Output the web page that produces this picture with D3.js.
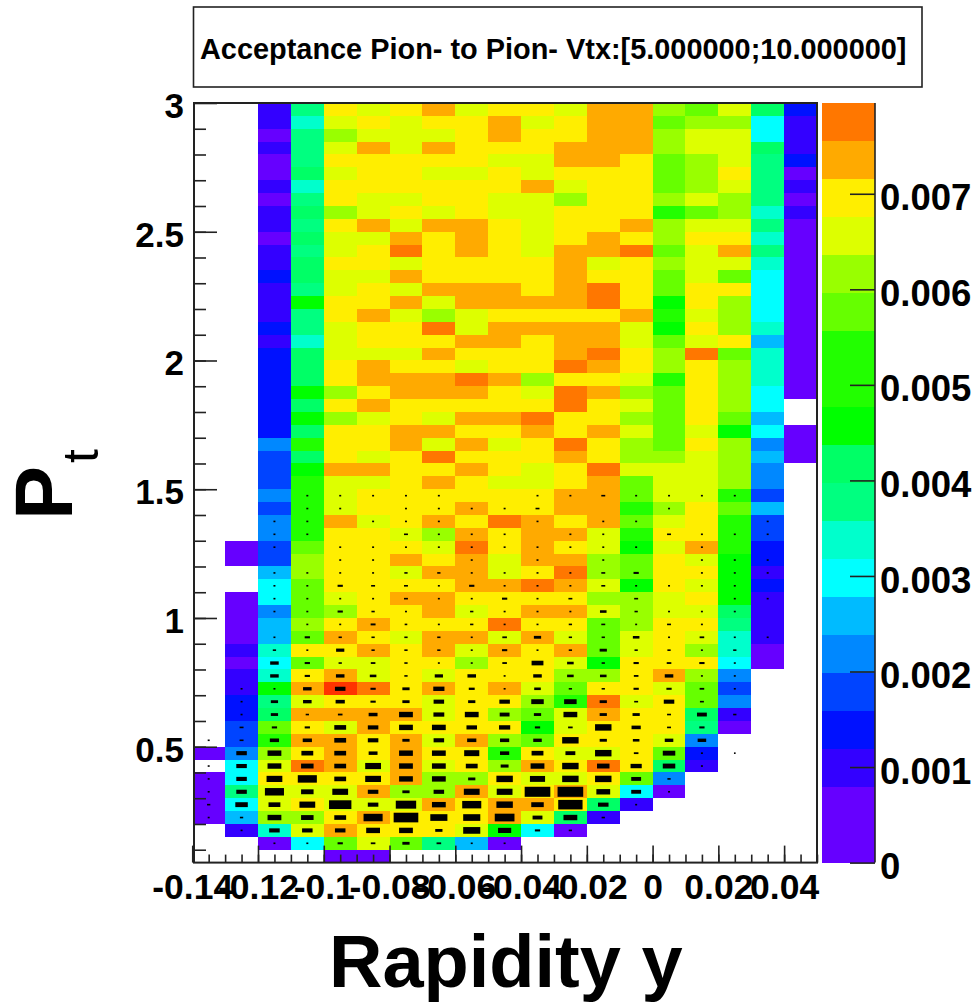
<!DOCTYPE html>
<html>
<head>
<meta charset="utf-8">
<script src="https://cdn.jsdelivr.net/npm/d3@7"></script>
<style>
  html, body { margin: 0; padding: 0; background: #fff; }
  svg { display: block; }
  text { font-family: "Liberation Sans", Arial, sans-serif; font-weight: bold; fill: #000; }
  .domain { display: none; }
  .tick line { stroke: #222; }
  .crisp rect { shape-rendering: crispEdges; }
</style>
</head>
<body>
<svg id="chart" width="977" height="1002"></svg>
<script>
var _ = null;

// acceptance per rapidity bin (one list per column, pt from 3 down to 0.05), in units of 1e-3
var col00 = [_,_,_,_,_,_,_,_,_,_, _,_,_,_,_,_,_,_,_,_, _,_,_,_,_,_,_,_,_,_, _,_,_,_,_,_,_,_,_,_, _,_,_,_,_,_,_,_,_,_, .6,_,.6,.6,.6,.6,_,_,_];
var col01 = [_,_,_,_,_,_,_,_,_,_, _,_,_,_,_,_,_,_,_,_, _,_,_,_,_,_,_,_,_,_, _,_,_,_,.6,.6,_,_,.6,.6, .6,.6,1,.6,1,1,1.4,1.4,1.8,1.8, 2.2,3,3,3.8,3,2.6,1,_,_];
var col02 = [1,1,.6,1,.6,.6,1,.6,1,1, .6,1,1,1.4,1,1,1,1.4,1,1.4, 1.4,1.4,1.4,1.4,1.4,1.4,2.2,1.8,1.8,1.8, 2.2,1.8,2.2,2.2,1.8,1.8,2.6,3,3,2.2, 2.6,2.6,3.4,3,3.4,4.6,3.8,4.2,5.8,5, 6.2,6.6,7,6.6,6.6,6.2,3.4,.6,_];
var col03 = [3.8,3.4,3.8,3.8,3.8,4.2,3.4,3.8,4.2,3.8, 4.2,3.8,4.2,4.2,3.8,4.6,3.8,3.8,3.4,4.2, 4.2,4.2,4.6,4.2,4.6,4.2,5,4.2,4.6,5, 5,5,5,5,5.8,6.2,6.2,5.8,5.8,5.8, 6.2,5.8,7,5.8,7,7.4,6.6,7.4,7,7.4, 7,7.8,7,6.6,7,6.2,6.6,3,_];
var col04 = [7,6.6,6.2,6.6,7,6.6,7,7,6.2,7, 6.6,6.6,7,6.6,6.6,7,7,6.6,6.6,6.6, 7,7,6.2,7,6.2,7,7,7,7.4,6.6, 6.6,6.6,7.4,7,7,7,7,7,6.6,6.2, 7,7.4,7,6.6,7.4,8.2,7,7.4,6.6,7.4, 7.4,7.4,7,6.6,6.6,7,7.4,5.8,.6];
var col05 = [6.6,7,6.6,7.4,7,7,7,6.6,6.6,7.4, 6.6,7,7,6.6,7,7,7.4,7,7,6.6, 7.4,7.4,7,7.4,6.6,7,7,6.6,7.4,6.6, 7,7,6.6,7,7,7,7,7,7,7, 7.4,7,7.4,6.6,6.6,7.8,7,7.4,7.4,7, 7,6.6,7,7.4,6.6,7.4,7,6.6,.6];
var col06 = [7,6.6,6.6,6.6,7,7,7,6.6,7,6.6, 7.4,7.8,6.6,7.4,6.6,7.4,6.6,7,7,6.6, 7,7.4,7.4,7,7,7.4,7.4,7,7,7, 7,7,7,6.6,7,7.4,6.6,7,7.4,7, 7,6.6,7,7,7,7,7,7.4,7,7.4, 7.4,7.4,7.4,6.2,6.6,7,7,5.8,_];
var col07 = [7.4,7,6.6,7.4,7,6.6,7,7,6.6,7.4, 7,7,7,7,7.4,6.6,6.2,7.8,7,7.4, 7,7.4,7.4,7,6.6,7.4,6.6,7.8,7,7.4, 7,7,7.4,6.2,6.6,7,7.4,7,7.4,7.4, 7,7.4,7.4,7,6.6,7.4,6.6,6.6,7,6.6, 7,6.6,6.2,6.2,7.4,7,7,3.8,_];
var col08 = [6.6,7,7,7,7,6.6,7,7,7,7.4, 7.4,7.4,7,7,7.4,7.4,6.6,6.6,7.4,7, 6.6,7.8,7.4,7,7.4,7,7.4,7,7.4,7, 7,7.4,7,7.4,7.8,7.4,7.4,7.4,7,6.6, 7,7.4,6.6,6.2,7,7,7,7,7,7.4, 7,7,6.2,7.4,7,7,6.6,2.6,_];
var col09 = [7,7.4,7.4,7,6.6,7,7,6.6,6.6,7, 7,7,7,7,7.4,7.4,7,7.4,7.4,7, 7,7.4,7,7,7.4,7,6.6,7,7,6.6, 7,7,7.8,7,7,6.6,6.6,7.4,7,7, 7.8,6.6,7.4,7,7,7.4,7,6.2,7,6.2, 5,6.2,7,6.6,7.4,7.4,4.6,.6,_];
var col10 = [7,6.6,7,7,6.6,6.6,7.4,6.6,6.6,6.6, 6.6,6.6,7,7,7,7.4,7,7.4,7,7, 7,6.2,6.6,7,7.8,7.4,7,7,6.6,6.6, 7,7,7.4,7.4,7.4,7.4,7,7.8,7,7.4, 7,7.4,7,7,7,6.6,6.2,5.8,4.6,5.8, 7,7.4,6.6,7,7.4,6.6,3,_,_];
var col11 = [6.6,7,7,7.4,7.4,7,6.6,6.2,7,7, 7,7.4,7.4,7.4,7.4,7.4,7,7.4,7.4,7.4, 7.8,7,7.8,7.8,7,7,7.8,7.4,7,7, 7.4,7.4,7,7.4,7,7.4,7.8,7.4,7,7.4, 7,6.6,7.4,6.6,6.2,5.8,5,6.6,6.6,7, 6.6,7,6.6,7.4,7,4.2,.6,_,_];
var col12 = [7.4,7.4,7.4,7.4,7.4,7,7,7,7,7, 7.4,7.4,6.6,7,7.8,7.8,7,7.4,7.4,7.8, 7.4,7,7.4,7,7,7.4,7,7,7.8,7.4, 7.4,7.4,7.4,6.6,6.6,6.2,6.2,6.6,6.2,6.6, 5.8,5.8,5.8,4.6,6.2,7,7.8,7.4,7,7, 6.6,7.8,7,6.6,4.2,1,_,_,_];
var col13 = [7.4,7.4,7.4,7.4,7,7,7,7,7,7.4, 7,7.8,7,7,7,7,7.4,6.6,6.6,7, 7,6.6,6.2,6.6,6.2,6.6,6.2,6.2,6.6,5.8, 5.8,5,5.8,5,4.6,5.8,5.8,4.6,6.2,6.2, 6.2,6.6,6.6,7,7,7,6.6,7,7,7, 7,7,5.8,3,1,_,_,_,_];
var col14 = [6.2,5.8,6.2,6.2,5.8,5.8,5.8,6.2,5,6.2, 6.2,5.8,6.2,5.8,5.8,4.6,5,4.6,5.8,6.2, 6.2,5,5.8,5.8,5.8,5.8,5.8,6.2,6.6,6.6, 6.6,6.2,6.6,7,6.6,7,7,7,6.6,6.6, 7,7,7,7,7.4,6.6,7,7,7,6.6, 5.8,4.2,2.2,.6,_,_,_,_,_];
var col15 = [5.8,6.2,6.6,6.6,6.2,6.2,6.2,6.6,5.8,6.6, 7,6.6,6.6,6.6,7,7,6.6,7,6.6,7.8, 7,7,7,7,7,6.6,7,6.6,6.6,6.6, 6.6,7,7,7,7.4,6.6,7,6.6,7,6.6, 7,6.6,6.2,7,6.2,5.8,5.8,4.2,3.8,2.2, 1.4,1,_,_,_,_,_,_,_];
var col16 = [6.6,6.2,6.6,6.6,6.6,7,6.6,6.2,6.2,6.6, 7,7.4,6.6,5.8,7,6.2,6.2,6.2,7,5.8, 6.2,6.2,6.2,6.2,5.8,4.6,6.2,6.2,6.2,6.2, 5,5.8,5,5,5,4.6,4.6,4.6,4.6,4.2, 3.8,3.4,3.4,3,2.2,1.8,2.2,1,.6,_, _,_,_,_,_,_,_,_,_];
var col17 = [4.2,3,3,4.2,3.8,3.8,3.8,3.8,3.4,3.8, 3.4,3.8,3.4,3,3,3,3,3.4,2.6,3.4, 3.4,3.4,3,3,2.6,3,2.2,2.6,2.2,2.2, 1.8,2.6,1.8,1.8,1.4,1.4,1,1.4,1,1, 1,1,.6,.6,_,_,_,_,_,_, _,_,_,_,_,_,_,_,_];
var col18 = [1.4,1,1,1,1.4,.6,1,.6,1,.6, .6,.6,.6,.6,.6,.6,.6,.6,.6,.6, .6,.6,.6,_,_,.6,.6,.6,_,_, _,_,_,_,_,_,_,_,_,_, _,_,_,_,_,_,_,_,_,_, _,_,_,_,_,_,_,_,_];
var acceptance = [col00, col01, col02, col03, col04, col05, col06, col07, col08, col09,
  col10, col11, col12, col13, col14, col15, col16, col17, col18];

// error boxes, fraction of the cell, rows 30 to 57 (pt 1.5 down to 0.1)
var firstBoxRow = 30;
var boxSize = [
  [0,0,0,.06,.06,.06,.06,.06,0,0,.06,.06,.12,.06,.06,.06,.06,0,0],
  [0,0,0,.06,.06,0,.06,.06,.06,.06,.12,0,0,0,.06,0,0,0,0],
  [0,0,.06,.06,0,.06,.06,.06,0,0,.06,0,.06,.06,0,0,0,.06,0],
  [0,0,.06,.06,0,0,.12,.06,.06,.06,0,.06,.06,0,.12,.06,.06,.06,0],
  [0,0,.06,0,.06,.06,.06,.06,.06,.06,.06,.06,.06,.06,0,.06,0,0,0],
  [0,0,0,0,.06,.06,0,0,.06,0,.06,0,.06,0,0,.06,.06,.06,0],
  [0,0,.06,.06,.06,.06,.1,.1,.06,.06,.06,.06,.12,.16,0,.06,.06,.06,0],
  [0,0,.06,.06,.16,.12,.12,.06,.16,.06,.06,.06,.12,.06,.06,.06,.06,0,0],
  [0,0,.06,.06,.06,.06,.12,.06,.06,.16,.06,.12,0,.12,0,0,.06,.06,0],
  [0,0,.06,.06,.16,.1,.06,0,.1,.06,.06,.06,.2,.1,.06,.06,.06,0,0],
  [0,0,0,.06,.06,.15,.08,.06,.1,.06,.06,.1,.12,.06,.12,.06,0,0,0],
  [0,0,.06,.16,.1,.1,.1,.1,.06,.14,.22,.1,.1,.2,.06,.14,.06,.06,0],
  [0,0,.1,.06,.25,.1,.1,.1,.06,.16,.06,.1,.22,.1,.1,.06,.1,0,0],
  [0,0,.26,.16,.1,.14,.1,.06,.06,.14,.36,.2,.1,.16,.14,.16,.06,0,0],
  [0,0,.26,.16,.26,.2,.1,.25,.26,.06,.26,.2,.2,.14,.26,.06,.06,0,0],
  [0,.06,.06,.26,.32,.16,.22,.34,.18,.06,.2,.1,.1,.16,.16,.14,.06,0,0],
  [0,.06,.22,.26,.28,.16,.22,.32,.22,.32,.38,.38,.22,.12,.32,.12,0,0,0],
  [0,.06,.22,.1,.14,.27,.42,.33,.42,.3,.22,.42,.22,.22,.12,.3,.1,0,0],
  [0,.12,.16,.16,.36,.32,.42,.42,.32,.34,.16,.14,.5,.28,.12,.16,0,0,0],
  [.06,.12,.28,.28,.36,.32,.22,.32,.28,.28,.26,.5,.22,.2,.26,.26,0,0,0],
  [0,.32,.42,.36,.36,.27,.42,.42,.46,.28,.36,.3,.5,.14,.38,.06,.05,0,0],
  [.06,.32,.42,.38,.36,.48,.42,.42,.36,.24,.42,.5,.38,.34,.38,.06,0,0,0],
  [.06,.32,.48,.58,.36,.48,.42,.42,.22,.5,.46,.5,.5,.3,.1,0,0,0,0],
  [.06,.32,.58,.38,.48,.32,.22,.32,.48,.48,.78,.78,.42,.3,.06,0,0,0,0],
  [.1,.38,.36,.48,.68,.32,.62,.42,.58,.5,.38,.74,.32,.06,0,0,0,0,0],
  [.06,.1,.42,.38,.36,.58,.75,.52,.52,.6,.3,.42,.1,0,0,0,0,0,0],
  [0,.06,.32,.32,.32,.42,.42,.22,.52,.4,.16,.1,0,0,0,0,0,0,0],
  [0,0,.06,.06,.16,.14,.22,.14,.06,.06,0,0,0,0,0,0,0,0,0]
];

var palette = ['#6600ff','#6600ff','#3300ff','#0011ff','#0044ff','#0088ff','#00bbff','#00ffff','#00ffcc','#00ff80',
  '#00ff66','#00ff00','#22ff00','#22ff00','#66ff00','#99ff00','#ddff00','#ffee00','#ffaa00','#ff7700','#ff3300'];
var zMax = 7.95;

var xMajor = [-0.14,-0.12,-0.1,-0.08,-0.06,-0.04,-0.02,0,0.02,0.04];
var xLabels = ['-0.14','-0.12','-0.1','-0.08','-0.06','-0.04','-0.02','0','0.02','0.04'];
var yMajor = [0.5,1,1.5,2,2.5,3];
var yLabels = ['0.5','1','1.5','2','2.5','3'];
var zMajor = [0,1,2,3,4,5,6,7];
var zLabels = ['0','0.001','0.002','0.003','0.004','0.005','0.006','0.007'];

var titleText = 'Acceptance Pion- to Pion- Vtx:[5.000000;10.000000]';

var plot = {left: 194, right: 817, top: 103, bottom: 862.6};
var bar = {left: 822, right: 875};

var svg = d3.select('#chart');

var x = d3.scaleLinear().domain([-0.12, 0.05]).range([258, plot.right]);
var y = d3.scaleLinear().domain([0.05, 3]).range([plot.bottom, plot.top]);
var z = d3.scaleLinear().domain([0, zMax]).range([plot.bottom, plot.top]);
var level = d3.scaleThreshold()
  .domain(d3.range(1, palette.length).map(function(k) { return k * zMax / 20; }))
  .range(palette);

var binX = 0.01;
var binY = 0.05;
var cellW = x(binX) - x(0);
var cellH = y(0) - y(binY);

svg.append('clipPath').attr('id', 'plot-clip')
  .append('rect')
  .attr('x', plot.left)
  .attr('y', plot.top)
  .attr('width', plot.right - plot.left)
  .attr('height', plot.bottom - plot.top);

// cells
var cells = [];
acceptance.forEach(function(column, c) {
  column.forEach(function(v, r) {
    if (v !== null) cells.push({c: c, r: r, v: v});
  });
});

svg.append('g')
  .attr('class', 'crisp')
  .attr('clip-path', 'url(#plot-clip)')
  .selectAll('rect')
  .data(cells)
  .enter()
  .append('rect')
  .attr('x', function(d) { return x(-0.14 + d.c * binX); })
  .attr('y', function(d) { return y(3 - d.r * binY); })
  .attr('width', cellW)
  .attr('height', cellH)
  .attr('fill', function(d) { return level(d.v); });

// error boxes
var boxes = [];
boxSize.forEach(function(row, i) {
  row.forEach(function(s, c) {
    if (s > 0) boxes.push({c: c, r: i + firstBoxRow, s: s});
  });
});

svg.append('g').selectAll('rect')
  .data(boxes)
  .enter()
  .append('rect')
  .attr('x', function(d) { return x(-0.14 + (d.c + 0.5) * binX) - d.s * cellW / 2; })
  .attr('y', function(d) { return y(3 - (d.r + 0.5) * binY) - Math.max(d.s * cellH, 1.6) / 2; })
  .attr('width', function(d) { return d.s * cellW; })
  .attr('height', function(d) { return Math.max(d.s * cellH, 1.6); })
  .attr('fill', '#000');

// frame
svg.append('rect')
  .attr('x', plot.left)
  .attr('y', plot.top)
  .attr('width', plot.right - plot.left)
  .attr('height', plot.bottom - plot.top)
  .attr('fill', 'none')
  .attr('stroke', '#222')
  .attr('stroke-width', 2);

// x axis
var xMinorAxis = d3.axisBottom(x)
  .tickValues(d3.range(-0.135, 0.0501, 0.005))
  .tickSize(-8)
  .tickFormat('');
svg.append('g')
  .attr('transform', 'translate(0,' + plot.bottom + ')')
  .call(xMinorAxis)
  .selectAll('line').attr('stroke-width', 1.6);

var xAxis = d3.axisBottom(x)
  .tickValues(xMajor)
  .tickSize(-17)
  .tickPadding(11.5)
  .tickFormat(function(d, i) { return xLabels[i]; });
var xG = svg.append('g')
  .attr('transform', 'translate(0,' + plot.bottom + ')')
  .call(xAxis);
xG.selectAll('line').attr('stroke-width', 1.6);
xG.selectAll('text').style('font-size', '35.5px').attr('fill', '#000');

// y axis
var yMinorAxis = d3.axisLeft(y)
  .tickValues(d3.range(0.1, 3, 0.1))
  .tickSize(-12)
  .tickFormat('');
svg.append('g')
  .attr('transform', 'translate(' + plot.left + ',0)')
  .call(yMinorAxis)
  .selectAll('line').attr('stroke-width', 1.6);

var yAxis = d3.axisLeft(y)
  .tickValues(yMajor)
  .tickSize(-23)
  .tickPadding(10)
  .tickFormat(function(d, i) { return yLabels[i]; });
var yG = svg.append('g')
  .attr('transform', 'translate(' + plot.left + ',0)')
  .call(yAxis);
yG.selectAll('line').attr('stroke-width', 1.6);
yG.selectAll('text').style('font-size', '35px').attr('dy', '0.41em').attr('fill', '#000');

// colour bar
svg.append('g')
  .attr('class', 'crisp')
  .selectAll('rect')
  .data(palette.slice(0, 20))
  .enter()
  .append('rect')
  .attr('x', bar.left)
  .attr('y', function(d, i) { return z((i + 1) * zMax / 20); })
  .attr('width', bar.right - bar.left)
  .attr('height', z(0) - z(zMax / 20))
  .attr('fill', function(d) { return d; });

var zAxis = d3.axisRight(z)
  .tickValues(zMajor)
  .tickSize(-25)
  .tickPadding(5)
  .tickFormat(function(d, i) { return zLabels[i]; });
var zG = svg.append('g')
  .attr('transform', 'translate(' + bar.right + ',0)')
  .call(zAxis);
zG.selectAll('line').attr('stroke', '#000').attr('stroke-width', 1.6);
zG.selectAll('text').style('font-size', '36.5px').attr('dy', '0.44em').attr('fill', '#000');

svg.append('line')
  .attr('x1', bar.right).attr('x2', bar.right)
  .attr('y1', plot.top).attr('y2', plot.bottom)
  .attr('stroke', '#222')
  .attr('stroke-width', 1.6);

// title box
svg.append('rect')
  .attr('x', 193.5)
  .attr('y', 7)
  .attr('width', 728.5)
  .attr('height', 80)
  .attr('fill', '#fff')
  .attr('stroke', '#222')
  .attr('stroke-width', 1.6);

svg.append('text')
  .attr('x', 200)
  .attr('y', 59)
  .style('font-size', '28.9px')
  .text(titleText);

// axis titles
svg.append('text')
  .attr('x', 329)
  .attr('y', 987)
  .style('font-size', '74px')
  .text('Rapidity y');

svg.append('text')
  .attr('transform', 'translate(72,520) rotate(-90)')
  .style('font-size', '81px')
  .text('P');

svg.append('text')
  .attr('transform', 'translate(98,463) rotate(-90)')
  .style('font-size', '50px')
  .style('font-weight', 'normal')
  .text('t');
</script>
</body>
</html>
